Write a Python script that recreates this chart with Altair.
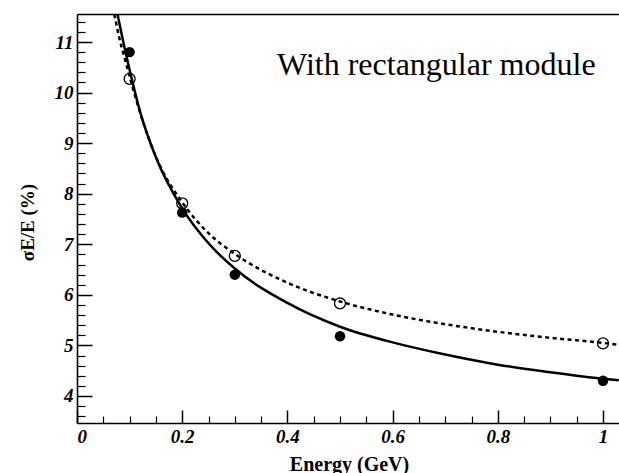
import altair as alt
import pandas as pd

# ---- data ----
energy_pts = [0.1, 0.2, 0.3, 0.5, 1.0]
filled_res = [10.80, 7.63, 6.40, 5.18, 4.30]
open_res = [10.27, 7.81, 6.77, 5.83, 5.04]

solid_E = [0.077, 0.088, 0.1, 0.12, 0.15, 0.2, 0.25, 0.3, 0.4, 0.5, 0.6, 0.7, 0.8, 0.9, 1.0, 1.03]
solid_res = [11.55, 11.0, 10.45, 9.62, 8.72, 7.71, 7.02, 6.52, 5.84, 5.37, 5.06, 4.82, 4.62, 4.47, 4.34, 4.31]

dashed_E = [0.071, 0.08, 0.09, 0.1, 0.12, 0.15, 0.2, 0.25, 0.3, 0.4, 0.5, 0.6, 0.7, 0.8, 0.9, 1.0, 1.03]
dashed_res = [11.55, 11.1, 10.7, 10.32, 9.6, 8.73, 7.83, 7.22, 6.81, 6.24, 5.87, 5.61, 5.42, 5.27, 5.15, 5.05, 5.01]

x_major = [0, 0.2, 0.4, 0.6, 0.8, 1.0]
x_minor = [0.05, 0.1, 0.15, 0.25, 0.3, 0.35, 0.45, 0.5, 0.55, 0.65, 0.7, 0.75, 0.85, 0.9, 0.95]
y_major = [4, 5, 6, 7, 8, 9, 10, 11]
y_minor = [3.6, 3.8, 4.2, 4.4, 4.6, 4.8, 5.2, 5.4, 5.6, 5.8, 6.2, 6.4, 6.6, 6.8,
           7.2, 7.4, 7.6, 7.8, 8.2, 8.4, 8.6, 8.8, 9.2, 9.4, 9.6, 9.8,
           10.2, 10.4, 10.6, 10.8, 11.2, 11.4]

annotation = "With rectangular module"
x_title = "Energy (GeV)"
y_title = "σE/E (%)"

pts = pd.DataFrame({"E": energy_pts, "filled": filled_res, "open": open_res})
solid = pd.DataFrame({"E": solid_E, "v": solid_res})
dashed = pd.DataFrame({"E": dashed_E, "v": dashed_res})
ann = pd.DataFrame({"label": [annotation]})

xs = alt.Scale(domain=[0, 1.0304], nice=False, zero=False)
ys = alt.Scale(domain=[3.466, 11.554], nice=False, zero=False)

LF = "Times New Roman, Liberation Serif, DejaVu Serif, serif"
lab = dict(labelFont=LF, labelFontSize=19, labelFontStyle="italic", labelFontWeight="bold",
           labelColor="black")

# major ticks (pointing inward)
ax_x_major = alt.Axis(orient="bottom", values=x_major, offset=-13, tickSize=13, domain=False,
                      tickColor="black", tickWidth=1.5, labelPadding=4, format="~g",
                      title=None, grid=False, **lab)
ax_y_major = alt.Axis(orient="left", values=y_major, offset=-15, tickSize=15, domain=False,
                      tickColor="black", tickWidth=1.5, labelPadding=4, format="~g",
                      title=None, grid=False, **lab)
# minor ticks
ax_x_minor = alt.Axis(orient="bottom", values=x_minor, offset=-7, tickSize=7, domain=False,
                      tickColor="black", tickWidth=1.2, labels=False, title=None, grid=False)
ax_y_minor = alt.Axis(orient="left", values=y_minor, offset=-8, tickSize=8, domain=False,
                      tickColor="black", tickWidth=1.2, labels=False, title=None, grid=False)
# frame lines + titles
ax_x_dom = alt.Axis(orient="bottom", ticks=False, labels=False, domain=True, domainColor="black",
                    domainWidth=1.6, grid=False, title=x_title, titleFont=LF, titleFontSize=20,
                    titleFontWeight="bold", titleColor="black", titleX=272, titleY=47,
                    titleBaseline="alphabetic", titleAlign="center")
ax_y_dom = alt.Axis(orient="left", ticks=False, labels=False, domain=True, domainColor="black",
                    domainWidth=1.6, grid=False, title=y_title, titleFont=LF, titleFontSize=19,
                    titleFontWeight="bold", titleColor="black", titleX=-50, titleY=208,
                    titleAngle=270, titleAlign="center", titleBaseline="middle")
ax_x_top = alt.Axis(orient="top", ticks=False, labels=False, domain=True, domainColor="black",
                    domainWidth=1.6, grid=False, title=None)

solid_line = alt.Chart(solid).mark_line(color="black", strokeWidth=2.5, interpolate="monotone",
                                        clip=True).encode(
    x=alt.X("E:Q", scale=xs, axis=ax_x_major),
    y=alt.Y("v:Q", scale=ys, axis=ax_y_major),
)
dashed_line = alt.Chart(dashed).mark_line(color="black", strokeWidth=2.5, strokeDash=[4, 3.5],
                                          interpolate="monotone", clip=True).encode(
    x=alt.X("E:Q", scale=xs, axis=ax_x_minor),
    y=alt.Y("v:Q", scale=ys, axis=ax_y_minor),
)
filled_pts = alt.Chart(pts).mark_point(filled=True, color="black", size=110, opacity=1,
                                       shape="circle").encode(
    x=alt.X("E:Q", scale=xs, axis=ax_x_dom),
    y=alt.Y("filled:Q", scale=ys, axis=ax_y_dom),
)
open_pts = alt.Chart(pts).mark_point(filled=False, color="black", size=120, strokeWidth=1.3,
                                     opacity=1, shape="circle").encode(
    x=alt.X("E:Q", scale=xs, axis=ax_x_top),
    y=alt.Y("open:Q", scale=ys, axis=None),
)
text = alt.Chart(ann).mark_text(font=LF, fontSize=32, align="left", baseline="alphabetic",
                                color="black").encode(
    x=alt.value(200), y=alt.value(61), text="label:N"
)

chart = alt.layer(solid_line, dashed_line, filled_pts, open_pts, text).resolve_axis(
    x="independent", y="independent"
).properties(
    width=542, height=409,
    autosize=alt.AutoSizeParams(type="none"),
    padding={"left": 77, "top": 14, "right": 0, "bottom": 50},
    background="white",
).configure_view(stroke=None)

chart.save("out.html", embed_options={"renderer": "svg", "actions": False})
